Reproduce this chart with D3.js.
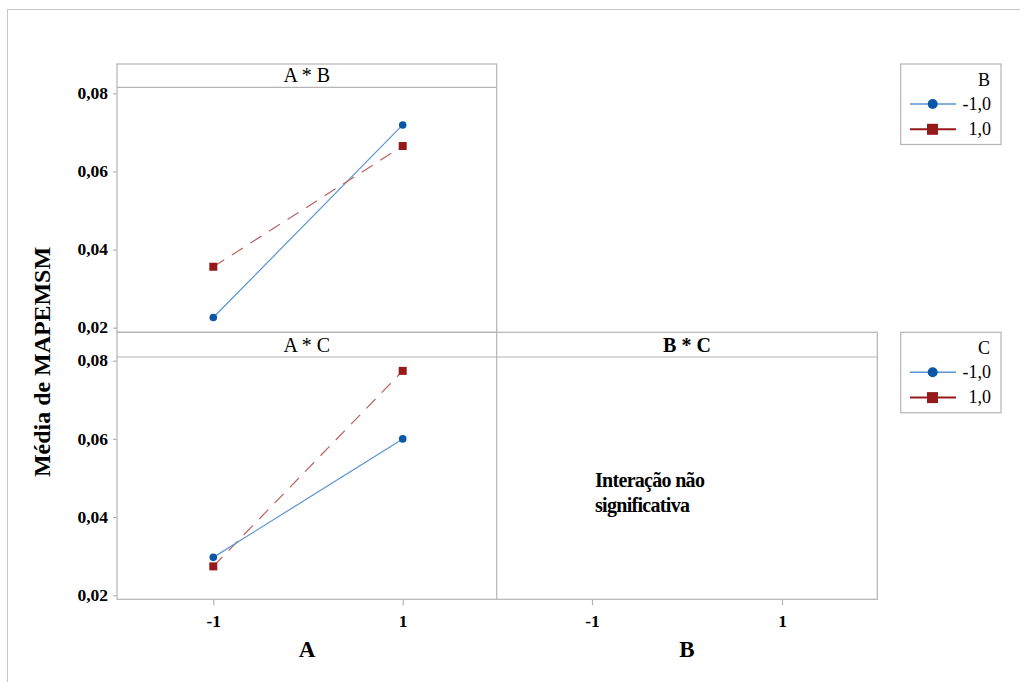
<!DOCTYPE html>
<html><head><meta charset="utf-8">
<script src="https://cdn.jsdelivr.net/npm/d3@7"></script>
<style>
body{margin:0;background:#fff;}
svg text{font-family:"Liberation Serif","Times New Roman",serif !important;}
</style></head>
<body><svg id="c" width="1020" height="682"></svg>
<script>
// ---- data ----
const levels = [-1, 1];
const yTicks = [0.02, 0.04, 0.06, 0.08];
const xTickLabels = ["-1", "1"];
const legendLevels = ["-1,0", "1,0"];
const abLow  = [0.0226, 0.0719];   // B = -1
const abHigh = [0.0356, 0.0665];   // B = 1
const acLow  = [0.0297, 0.0600];   // C = -1
const acHigh = [0.0274, 0.0774];   // C = 1
const panelTitles = ["A * B", "A * C", "B * C"];
const xTitles = ["A", "B"];
const yTitle = "Média de MAPEMSM";
const note = ["Interação não", "significativa"];

// ---- style ----
const gray = "#b4b4b4";
const blueM = "#0a57a8", blueL = "#5a95d2";
const redM = "#961a1a", redL = "#bf6060";
const serif = "'Liberation Serif','Times New Roman',serif";

const svg = d3.select("#c");

// outer frame
svg.append("line").attr("x1",7).attr("x2",1020).attr("y1",9.5).attr("y2",9.5).attr("stroke","#c8c8c8");
svg.append("line").attr("x1",7.5).attr("x2",7.5).attr("y1",9).attr("y2",682).attr("stroke","#c8c8c8");

const L = 117, M = 496.7, R = 877.3;
const topStrip = 64, topPlot = 87.3, midLine = 332.3, botPlot = 357, botEdge = 599.3;

const x1 = d3.scaleLinear().domain([-1,1]).range([213.3, 402.7]);
const x2 = d3.scaleLinear().domain([-1,1]).range([592, 782]);
const yTop = d3.scaleLinear().domain([0.02,0.08]).range([327.7, 93.3]);
const yBot = d3.scaleLinear().domain([0.02,0.08]).range([595.3, 360.7]);

// panel borders
const g = svg.append("g").attr("stroke", gray).attr("fill","none").attr("stroke-width",1.2);
g.append("rect").attr("x",L).attr("y",topStrip).attr("width",M-L).attr("height",midLine-topStrip);
g.append("line").attr("x1",L).attr("x2",M).attr("y1",topPlot).attr("y2",topPlot);
g.append("rect").attr("x",L).attr("y",midLine).attr("width",R-L).attr("height",botEdge-midLine);
g.append("line").attr("x1",L).attr("x2",R).attr("y1",botPlot).attr("y2",botPlot);
g.append("line").attr("x1",M).attr("x2",M).attr("y1",midLine).attr("y2",botEdge);

// strip titles
svg.append("text").attr("x",(L+M)/2).attr("y",82).attr("text-anchor","middle").attr("font-size",20).text(panelTitles[0]);
svg.append("text").attr("x",(L+M)/2).attr("y",351.5).attr("text-anchor","middle").attr("font-size",20).text(panelTitles[1]);
svg.append("text").attr("x",(M+R)/2).attr("y",351.5).attr("text-anchor","middle").attr("font-size",20).attr("font-weight","bold").text(panelTitles[2]);

// y axes
const fmt = d => d3.format(".2f")(d).replace(".", ",");
function yAxis(scale){
  const a = svg.append("g").attr("transform",`translate(${L},0)`)
    .call(d3.axisLeft(scale).tickValues(yTicks).tickFormat(fmt).tickSize(4).tickPadding(5));
  a.attr("font-family", null);
  a.select(".domain").remove();
  a.selectAll(".tick line").attr("stroke",gray).attr("stroke-width",1.2);
  a.selectAll(".tick text").attr("font-size",17.5)
    .attr("font-weight","bold").attr("fill","#000").attr("dy","0.3em");
}
yAxis(yTop); yAxis(yBot);

// x axes
function xAxis(scale){
  const a = svg.append("g").attr("transform",`translate(0,${botEdge})`)
    .call(d3.axisBottom(scale).tickValues(levels).tickFormat((d,i)=>xTickLabels[i]).tickSize(6).tickPadding(9));
  a.attr("font-family", null);
  a.select(".domain").remove();
  a.selectAll(".tick line").attr("stroke",gray).attr("stroke-width",1.2);
  a.selectAll(".tick text").attr("font-size",17.5)
    .attr("font-weight","bold").attr("fill","#000");
}
xAxis(x1); xAxis(x2);

svg.append("text").attr("x",307).attr("y",657).attr("text-anchor","middle").attr("font-size",23).attr("font-weight","bold").text(xTitles[0]);
svg.append("text").attr("x",687).attr("y",657).attr("text-anchor","middle").attr("font-size",23).attr("font-weight","bold").text(xTitles[1]);

svg.append("text").attr("transform","translate(50,362) rotate(-90)").attr("text-anchor","middle")
  .attr("font-size",23).attr("font-weight","bold").attr("textLength",230).attr("lengthAdjust","spacingAndGlyphs").text(yTitle);

// series
function series(vals, xs, ys, kind){
  const pts = levels.map((l,i)=>[xs(l), ys(vals[i])]);
  const ln = svg.append("path").attr("d", d3.line()(pts)).attr("fill","none");
  if(kind==="circle"){
    ln.attr("stroke",blueL).attr("stroke-width",1.2);
    svg.append("g").selectAll("circle").data(pts).join("circle")
      .attr("cx",d=>d[0]).attr("cy",d=>d[1]).attr("r",3.8).attr("fill",blueM);
  } else {
    ln.attr("stroke",redL).attr("stroke-width",1.2).attr("stroke-dasharray","13,9");
    svg.append("g").selectAll("rect").data(pts).join("rect")
      .attr("x",d=>d[0]-4).attr("y",d=>d[1]-4).attr("width",8).attr("height",8).attr("fill",redM);
  }
}
series(abLow, x1, yTop, "circle");
series(abHigh, x1, yTop, "square");
series(acHigh, x1, yBot, "square");
series(acLow, x1, yBot, "circle");

// note
svg.append("text").attr("x",595).attr("y",486.5).attr("font-size",20).attr("font-weight","bold").attr("letter-spacing","-0.7").text(note[0]);
svg.append("text").attr("x",595).attr("y",511.5).attr("font-size",20).attr("font-weight","bold").attr("letter-spacing","-0.7").text(note[1]);

// legends
function legend(y0, title){
  const lg = svg.append("g").attr("transform",`translate(0,${y0})`);
  lg.append("rect").attr("x",900.7).attr("y",0).attr("width",100.3).attr("height",80.5).attr("fill","none").attr("stroke",gray).attr("stroke-width",1.2);
  lg.append("text").attr("x",990).attr("y",22).attr("text-anchor","end").attr("font-size",18).text(title);
  const rows = [40, 65.3];
  lg.append("line").attr("x1",910).attr("x2",956).attr("y1",rows[0]).attr("y2",rows[0]).attr("stroke",blueL).attr("stroke-width",1.5);
  lg.append("circle").attr("cx",932.7).attr("cy",rows[0]).attr("r",5).attr("fill",blueM);
  lg.append("line").attr("x1",910).attr("x2",956).attr("y1",rows[1]).attr("y2",rows[1]).attr("stroke",redM).attr("stroke-width",2);
  lg.append("rect").attr("x",927).attr("y",rows[1]-5.5).attr("width",11).attr("height",11).attr("fill",redM);
  lg.selectAll("text.lv").data(legendLevels).join("text").attr("class","lv")
    .attr("x",991).attr("y",(d,i)=>rows[i]+5.5).attr("text-anchor","end").attr("font-size",18).text(d=>d);
}
legend(64, "B");
legend(332.3, "C");
</script></body></html>
